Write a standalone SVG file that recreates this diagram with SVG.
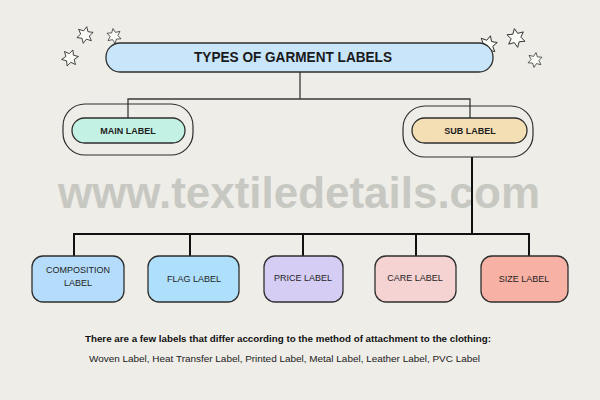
<svg xmlns="http://www.w3.org/2000/svg" width="600" height="400" viewBox="0 0 600 400">
<defs>
<style>
.box{stroke:#2e2e2e;stroke-width:1.3}
.wire{fill:none;stroke:#3a3a3a;stroke-width:1.3}
.wire2{fill:none;stroke:#111;stroke-width:2}
.lbl{font-family:"Liberation Sans",Arial,sans-serif;font-size:9px;fill:#1e1e1e;text-anchor:middle}
.blbl{font-family:"Liberation Sans",Arial,sans-serif;font-size:9px;font-weight:bold;fill:#1e1e1e;text-anchor:middle}
.star{fill:#fbfbf8;stroke:#222;stroke-width:0.9;stroke-linejoin:round}
</style>
<polygon id="st" points="0,-10 2.6,-4.5 8.7,-5 5.2,0 8.7,5 2.6,4.5 0,10 -2.6,4.5 -8.7,5 -5.2,0 -8.7,-5 -2.6,-4.5"/>
</defs>
<rect width="600" height="400" fill="#eeede8"/>
<g id="stars">
<use href="#st" class="star" transform="translate(85,35) rotate(12) scale(0.85)"/>
<use href="#st" class="star" transform="translate(114,36) rotate(-8) scale(0.75)"/>
<use href="#st" class="star" transform="translate(70,58) rotate(20) scale(0.85)"/>
<use href="#st" class="star" transform="translate(488,45) rotate(15) scale(0.95)"/>
<use href="#st" class="star" transform="translate(516,38) rotate(-10) scale(0.95)"/>
<use href="#st" class="star" transform="translate(535,60) rotate(8) scale(0.75)"/>
</g>
<text x="299" y="208" font-family="Liberation Sans,Arial,sans-serif" font-size="44" font-weight="bold" fill="#c8c8c3" text-anchor="middle" textLength="482" lengthAdjust="spacingAndGlyphs">www.textiledetails.com</text>
<g id="connectors">
<path class="wire" d="M300,72 V99 M128,118 V99 H470 V118"/>
<path class="wire2" d="M472,157 V234 M74,256 V234 H529 V256 M190,234 V256 M303,234 V256 M416,234 V256"/>
</g>
<g id="title">
<rect class="box" x="106" y="43" width="387" height="29" rx="14" fill="#c8e5fa"/>
<text x="293" y="62" font-family="Liberation Sans,Arial,sans-serif" font-size="14.5" font-weight="bold" fill="#1a1a1a" text-anchor="middle" textLength="198" lengthAdjust="spacingAndGlyphs">TYPES OF GARMENT LABELS</text>
</g>
<g id="main-label">
<rect x="63" y="104" width="130" height="51" rx="22" fill="none" stroke="#2e2e2e" stroke-width="1.2"/>
<rect class="box" x="72" y="118" width="113" height="25" rx="12.5" fill="#c3f2e4"/>
<text class="blbl" x="128" y="134">MAIN LABEL</text>
</g>
<g id="sub-label">
<rect x="403" y="106" width="130" height="51" rx="22" fill="none" stroke="#2e2e2e" stroke-width="1.2"/>
<rect class="box" x="412" y="118" width="115" height="25" rx="12.5" fill="#f4dfb5"/>
<text class="blbl" x="470" y="134">SUB LABEL</text>
</g>
<g id="composition-label">
<rect class="box" x="32" y="256" width="92" height="46" rx="11" fill="#b5dcfa"/>
<text class="lbl" x="78" y="273">COMPOSITION</text>
<text class="lbl" x="78" y="286">LABEL</text>
</g>
<g id="flag-label">
<rect class="box" x="148" y="256" width="91" height="46" rx="11" fill="#aedffb"/>
<text class="lbl" x="194" y="282">FLAG LABEL</text>
</g>
<g id="price-label">
<rect class="box" x="264" y="256" width="79" height="46" rx="11" fill="#d6cdf5"/>
<text class="lbl" x="303" y="281">PRICE LABEL</text>
</g>
<g id="care-label">
<rect class="box" x="375" y="256" width="81" height="46" rx="11" fill="#f5d3d3"/>
<text class="lbl" x="415" y="281">CARE LABEL</text>
</g>
<g id="size-label">
<rect class="box" x="481" y="256" width="87" height="46" rx="11" fill="#f8b2a5"/>
<text class="lbl" x="524" y="282">SIZE LABEL</text>
</g>
<text x="85" y="342" font-family="Liberation Sans,Arial,sans-serif" font-size="8.6" font-weight="bold" fill="#111" textLength="406" lengthAdjust="spacingAndGlyphs">There are a few labels that differ according to the method of attachment to the clothing:</text>
<text x="89" y="362" font-family="Liberation Sans,Arial,sans-serif" font-size="9" fill="#222" textLength="391" lengthAdjust="spacingAndGlyphs">Woven Label, Heat Transfer Label, Printed Label, Metal Label, Leather Label, PVC Label</text>
</svg>
